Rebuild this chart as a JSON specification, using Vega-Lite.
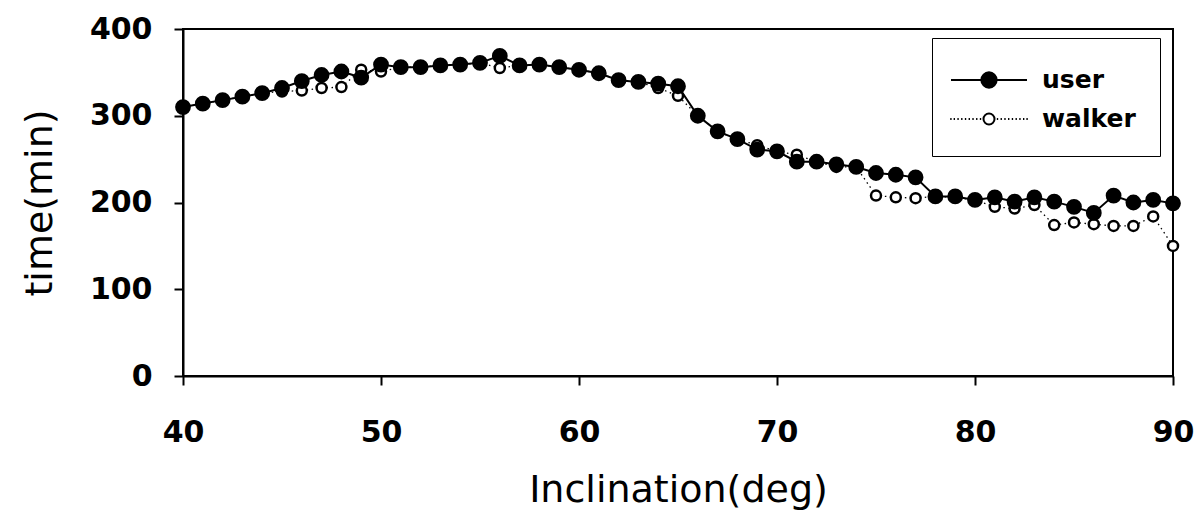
{
  "$schema": "https://vega.github.io/schema/vega-lite/v6.json",
  "width": 990,
  "height": 347,
  "autosize": {"type": "none"},
  "padding": {"left": 183, "top": 29, "right": 21, "bottom": 153},
  "background": "white",
  "config": {
    "view": {"stroke": "black", "strokeWidth": 2},
    "axis": {
      "domainColor": "black", "domainWidth": 2,
      "tickColor": "black", "tickWidth": 2, "tickSize": 9,
      "grid": false,
      "labelFont": "DejaVu Sans", "labelFontWeight": "bold", "labelFontSize": 30, "labelColor": "black",
      "titleFont": "DejaVu Sans", "titleFontWeight": "normal", "titleFontSize": 38, "titleColor": "black"
    },
    "legend": {
      "orient": "none", "legendX": 749, "legendY": 9,
      "strokeColor": "black", "padding": 24, "fillColor": "white",
      "symbolSize": 1156, "symbolStrokeColor": "black", "symbolStrokeWidth": 2,
      "symbolOffset": 15, "labelOffset": 35, "rowPadding": 8,
      "labelFont": "DejaVu Sans", "labelFontWeight": "bold", "labelFontSize": 25, "labelColor": "black"
    }
  },
  "data": {"values": [
    {"deg": 40, "series": "walker", "time": 310},
    {"deg": 41, "series": "walker", "time": 314},
    {"deg": 42, "series": "walker", "time": 318},
    {"deg": 43, "series": "walker", "time": 322},
    {"deg": 44, "series": "walker", "time": 326},
    {"deg": 45, "series": "walker", "time": 328},
    {"deg": 46, "series": "walker", "time": 329},
    {"deg": 47, "series": "walker", "time": 332},
    {"deg": 48, "series": "walker", "time": 333},
    {"deg": 49, "series": "walker", "time": 353},
    {"deg": 50, "series": "walker", "time": 351},
    {"deg": 51, "series": "walker", "time": 356},
    {"deg": 52, "series": "walker", "time": 356},
    {"deg": 53, "series": "walker", "time": 358},
    {"deg": 54, "series": "walker", "time": 359},
    {"deg": 55, "series": "walker", "time": 361},
    {"deg": 56, "series": "walker", "time": 355},
    {"deg": 57, "series": "walker", "time": 358},
    {"deg": 58, "series": "walker", "time": 359},
    {"deg": 59, "series": "walker", "time": 356},
    {"deg": 60, "series": "walker", "time": 353},
    {"deg": 61, "series": "walker", "time": 349},
    {"deg": 62, "series": "walker", "time": 341},
    {"deg": 63, "series": "walker", "time": 339},
    {"deg": 64, "series": "walker", "time": 332},
    {"deg": 65, "series": "walker", "time": 323},
    {"deg": 66, "series": "walker", "time": 300},
    {"deg": 67, "series": "walker", "time": 282},
    {"deg": 68, "series": "walker", "time": 273},
    {"deg": 69, "series": "walker", "time": 266},
    {"deg": 70, "series": "walker", "time": 259},
    {"deg": 71, "series": "walker", "time": 255},
    {"deg": 72, "series": "walker", "time": 247},
    {"deg": 73, "series": "walker", "time": 241},
    {"deg": 74, "series": "walker", "time": 241},
    {"deg": 75, "series": "walker", "time": 208},
    {"deg": 76, "series": "walker", "time": 206},
    {"deg": 77, "series": "walker", "time": 205},
    {"deg": 78, "series": "walker", "time": 207},
    {"deg": 79, "series": "walker", "time": 206},
    {"deg": 80, "series": "walker", "time": 203},
    {"deg": 81, "series": "walker", "time": 195},
    {"deg": 82, "series": "walker", "time": 193},
    {"deg": 83, "series": "walker", "time": 197},
    {"deg": 84, "series": "walker", "time": 174},
    {"deg": 85, "series": "walker", "time": 177},
    {"deg": 86, "series": "walker", "time": 175},
    {"deg": 87, "series": "walker", "time": 173},
    {"deg": 88, "series": "walker", "time": 173},
    {"deg": 89, "series": "walker", "time": 184},
    {"deg": 90, "series": "walker", "time": 150},
    {"deg": 40, "series": "user", "time": 310},
    {"deg": 41, "series": "user", "time": 314},
    {"deg": 42, "series": "user", "time": 318},
    {"deg": 43, "series": "user", "time": 322},
    {"deg": 44, "series": "user", "time": 326},
    {"deg": 45, "series": "user", "time": 332},
    {"deg": 46, "series": "user", "time": 340},
    {"deg": 47, "series": "user", "time": 347},
    {"deg": 48, "series": "user", "time": 351},
    {"deg": 49, "series": "user", "time": 344},
    {"deg": 50, "series": "user", "time": 359},
    {"deg": 51, "series": "user", "time": 356},
    {"deg": 52, "series": "user", "time": 356},
    {"deg": 53, "series": "user", "time": 358},
    {"deg": 54, "series": "user", "time": 359},
    {"deg": 55, "series": "user", "time": 361},
    {"deg": 56, "series": "user", "time": 369},
    {"deg": 57, "series": "user", "time": 358},
    {"deg": 58, "series": "user", "time": 359},
    {"deg": 59, "series": "user", "time": 356},
    {"deg": 60, "series": "user", "time": 353},
    {"deg": 61, "series": "user", "time": 349},
    {"deg": 62, "series": "user", "time": 341},
    {"deg": 63, "series": "user", "time": 339},
    {"deg": 64, "series": "user", "time": 337},
    {"deg": 65, "series": "user", "time": 334},
    {"deg": 66, "series": "user", "time": 300},
    {"deg": 67, "series": "user", "time": 282},
    {"deg": 68, "series": "user", "time": 273},
    {"deg": 69, "series": "user", "time": 261},
    {"deg": 70, "series": "user", "time": 259},
    {"deg": 71, "series": "user", "time": 247},
    {"deg": 72, "series": "user", "time": 247},
    {"deg": 73, "series": "user", "time": 244},
    {"deg": 74, "series": "user", "time": 241},
    {"deg": 75, "series": "user", "time": 234},
    {"deg": 76, "series": "user", "time": 232},
    {"deg": 77, "series": "user", "time": 229},
    {"deg": 78, "series": "user", "time": 207},
    {"deg": 79, "series": "user", "time": 207},
    {"deg": 80, "series": "user", "time": 203},
    {"deg": 81, "series": "user", "time": 206},
    {"deg": 82, "series": "user", "time": 201},
    {"deg": 83, "series": "user", "time": 206},
    {"deg": 84, "series": "user", "time": 201},
    {"deg": 85, "series": "user", "time": 195},
    {"deg": 86, "series": "user", "time": 188},
    {"deg": 87, "series": "user", "time": 208},
    {"deg": 88, "series": "user", "time": 200},
    {"deg": 89, "series": "user", "time": 203},
    {"deg": 90, "series": "user", "time": 199}
  ]},
  "encoding": {
    "x": {"field": "deg", "type": "quantitative",
      "scale": {"domain": [40, 90], "nice": false, "zero": false},
      "axis": {"values": [40, 50, 60, 70, 80, 90], "title": "Inclination(deg)", "labelPadding": 32, "titlePadding": 24, "labelFlush": false}},
    "y": {"field": "time", "type": "quantitative",
      "scale": {"domain": [0, 400], "nice": false},
      "axis": {"values": [0, 100, 200, 300, 400], "title": "time(min)", "labelPadding": 22, "titlePadding": 30}}
  },
  "layer": [
    {
      "transform": [{"filter": "datum.series === 'walker'"}],
      "mark": {"type": "line", "color": "black", "strokeWidth": 1.3, "strokeDash": [1.5, 3.5]}
    },
    {
      "transform": [{"filter": "datum.series === 'walker'"}],
      "mark": {"type": "point", "shape": "circle", "filled": true, "size": 100, "stroke": "black", "strokeWidth": 2.5, "opacity": 1},
      "encoding": {
        "fill": {"field": "series", "type": "nominal",
          "scale": {"domain": ["user", "walker"], "range": ["black", "white"]},
          "legend": {"title": null,
            "symbolType": {"expr": "datum.value === 'walker' ? 'M-0.46,0h-0.08M-0.68,0h-0.08M-0.9,0h-0.08M-1.12,0h-0.08M-1.34,0h-0.08M-1.56,0h-0.08M-1.78,0h-0.08M-2.0,0h-0.08M-2.2,0h-0.08M0.46,0h0.08M0.68,0h0.08M0.9,0h0.08M1.12,0h0.08M1.34,0h0.08M1.56,0h0.08M1.78,0h0.08M2.0,0h0.08M2.2,0h0.08M-0.324,0A0.324,0.324 0 1,0 0.324,0A0.324,0.324 0 1,0 -0.324,0Z' : 'M-2.235,0H2.235M-0.45,0A0.45,0.45 0 1,0 0.45,0A0.45,0.45 0 1,0 -0.45,0Z'"}
          }}
      }
    },
    {
      "transform": [{"filter": "datum.series === 'user'"}],
      "mark": {"type": "line", "color": "black", "strokeWidth": 2}
    },
    {
      "transform": [{"filter": "datum.series === 'user'"}],
      "mark": {"type": "point", "shape": "circle", "filled": true, "size": 190, "stroke": "black", "strokeWidth": 2, "opacity": 1},
      "encoding": {
        "fill": {"field": "series", "type": "nominal"}
      }
    }
  ]
}
